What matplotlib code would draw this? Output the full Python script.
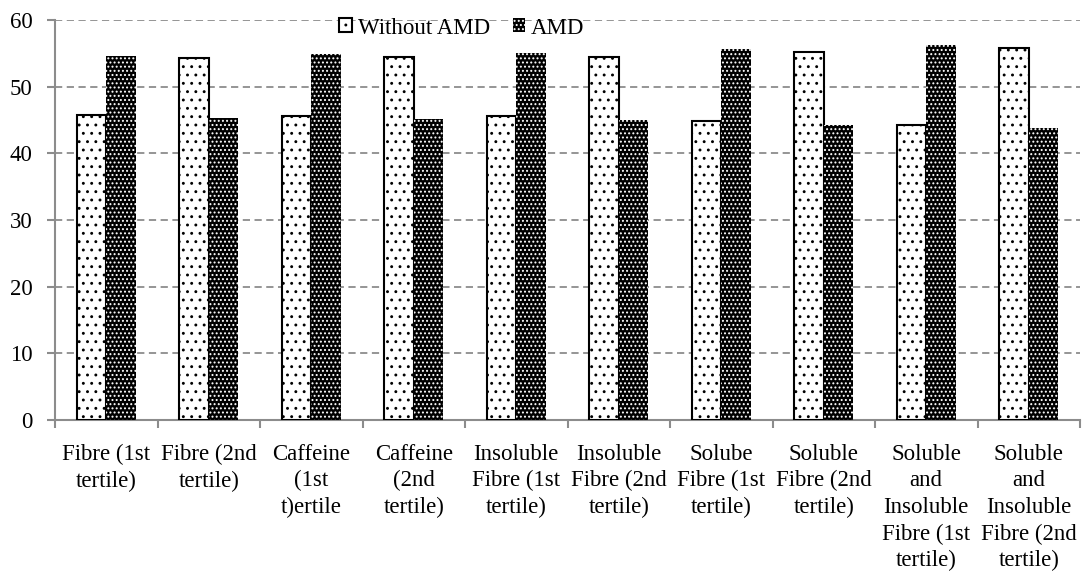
import matplotlib
matplotlib.use("Agg")
import matplotlib.pyplot as plt
import numpy as np

categories = [
    "Fibre (1st\ntertile)",
    "Fibre (2nd\ntertile)",
    "Caffeine\n(1st\nt)ertile",
    "Caffeine\n(2nd\ntertile)",
    "Insoluble\nFibre (1st\ntertile)",
    "Insoluble\nFibre (2nd\ntertile)",
    "Solube\nFibre (1st\ntertile)",
    "Soluble\nFibre (2nd\ntertile)",
    "Soluble\nand\nInsoluble\nFibre (1st\ntertile)",
    "Soluble\nand\nInsoluble\nFibre (2nd\ntertile)",
]
without_amd = [45.7, 54.3, 45.6, 54.4, 45.6, 54.4, 44.9, 55.2, 44.2, 55.8]
amd = [54.6, 45.3, 54.9, 45.1, 55.0, 45.0, 55.6, 44.3, 56.3, 43.8]
series_names = ["Without AMD", "AMD"]
yticks = [0, 10, 20, 30, 40, 50, 60]

plt.rcParams["font.family"] = ["Liberation Serif", "DejaVu Serif"]
plt.rcParams["hatch.linewidth"] = 0.9

fig = plt.figure(figsize=(10.86, 5.72), dpi=100)
ax = fig.add_axes([55 / 1086, 1 - 420 / 572, (1080 - 55) / 1086, 400 / 572])

x = np.arange(len(categories))
w = 0.286
b1 = ax.bar(x - w / 2, without_amd, w, facecolor="white", edgecolor="black",
            linewidth=1.5, hatch="..", zorder=3, label=series_names[0])
b2 = ax.bar(x + w / 2, amd, w, facecolor="black", edgecolor="white",
            linewidth=0, hatch="....", zorder=3, label=series_names[1])

ax.set_xlim(-0.5, len(categories) - 0.5)
ax.set_ylim(0, 60)
ax.set_yticks(yticks)
ax.yaxis.grid(True, color="#8c8c8c", linestyle=(0, (4, 2.5)), linewidth=1.3, zorder=0)
ax.set_axisbelow(True)

for s in ["top", "right"]:
    ax.spines[s].set_visible(False)
for s in ["left", "bottom"]:
    ax.spines[s].set_color("#8c8c8c")
    ax.spines[s].set_linewidth(1.5)

# category boundaries carry the tick marks, labels sit at the centres
ax.set_xticks(np.arange(len(categories) + 1) - 0.5)
ax.set_xticklabels([])
ax.set_xticks(x, minor=True)
ax.set_xticklabels(categories, minor=True, fontsize=16.5, linespacing=1.35, va="top")
ax.tick_params(axis="x", which="major", length=6, width=1.5, color="#8c8c8c", direction="out")
ax.tick_params(axis="x", which="minor", length=0, pad=17)
ax.tick_params(axis="y", length=6, width=1.5, color="#8c8c8c", labelsize=16.5, pad=10)

fig.legend(handles=[b1, b2], labels=series_names, loc="center",
           bbox_to_anchor=(462 / 1086, 1 - 28 / 572), ncol=2, frameon=False,
           fontsize=16.5, handlelength=0.55, handleheight=0.55, handletextpad=0.25,
           columnspacing=1.0, borderpad=0)

fig.savefig("out.png", dpi=100)
